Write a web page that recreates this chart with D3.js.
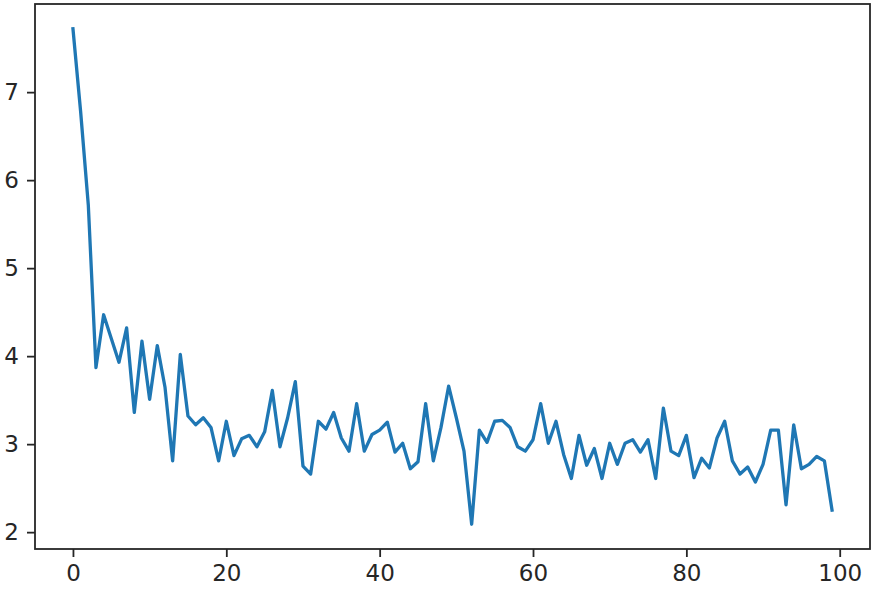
<!DOCTYPE html>
<html>
<head>
<meta charset="utf-8">
<script src="https://cdn.jsdelivr.net/npm/d3@7"></script>
<style>
  html, body { margin: 0; padding: 0; background: #fff; }
  svg { display: block; }
</style>
</head>
<body>
<script>
// ---- data ----
const epochs = d3.range(0, 100);
const lossValues = [
  7.72, 6.78, 5.72, 3.87, 4.47, 4.20, 3.93, 4.32, 3.36, 4.17,
  3.51, 4.12, 3.65, 2.81, 4.02, 3.32, 3.22, 3.30, 3.19, 2.81,
  3.26, 2.87, 3.06, 3.10, 2.97, 3.14, 3.61, 2.97, 3.30, 3.71,
  2.75, 2.66, 3.26, 3.17, 3.36, 3.07, 2.92, 3.46, 2.92, 3.11,
  3.16, 3.25, 2.91, 3.01, 2.72, 2.80, 3.46, 2.81, 3.19, 3.66,
  3.30, 2.92, 2.09, 3.16, 3.02, 3.26, 3.27, 3.19, 2.97, 2.92,
  3.05, 3.46, 3.01, 3.26, 2.88, 2.61, 3.10, 2.76, 2.95, 2.61,
  3.01, 2.77, 3.01, 3.05, 2.91, 3.05, 2.61, 3.41, 2.92, 2.87,
  3.10, 2.62, 2.84, 2.73, 3.07, 3.26, 2.81, 2.66, 2.74, 2.57,
  2.77, 3.16, 3.16, 2.31, 3.22, 2.72, 2.77, 2.86, 2.81, 2.25
];
const xTicks = [0, 20, 40, 60, 80, 100];
const yTicks = [2, 3, 4, 5, 6, 7];

// ---- layout ----
const W = 878, H = 592;
const mLeft = 35, mRight = 870, mTop = 4, mBottom = 549;
const fontSize = 23, tickLen = 8, tickPad = 8;

const svg = d3.select("body").append("svg")
  .attr("width", W).attr("height", H);

const xMin = d3.min(epochs), xMax = d3.max(epochs);
const xr = xMax - xMin;
const x = d3.scaleLinear()
  .domain([xMin - 0.05 * xr, xMax + 0.05 * xr])
  .range([mLeft, mRight]);

const yMin = d3.min(lossValues), yMax = d3.max(lossValues);
const yr = yMax - yMin;
const y = d3.scaleLinear()
  .domain([yMin - 0.05 * yr, yMax + 0.05 * yr])
  .range([mBottom, mTop]);

const axisColor = "#262626";

const gx = svg.append("g")
  .attr("transform", `translate(0,${mBottom})`)
  .call(d3.axisBottom(x).tickValues(xTicks).tickSize(tickLen).tickPadding(tickPad).tickFormat(d3.format("d")));
const gy = svg.append("g")
  .attr("transform", `translate(${mLeft},0)`)
  .call(d3.axisLeft(y).tickValues(yTicks).tickSize(tickLen).tickPadding(tickPad).tickFormat(d3.format("d")));

[gx, gy].forEach(g => {
  g.select(".domain").remove();
  g.selectAll(".tick line").attr("stroke", axisColor).attr("stroke-width", 1.8);
  g.selectAll(".tick text")
    .attr("fill", "#262626")
    .style("font-family", "'DejaVu Sans', sans-serif")
    .style("font-size", fontSize + "px");
});

const line = d3.line()
  .x((d, i) => x(epochs[i]))
  .y(d => y(d));

svg.append("path")
  .datum(lossValues)
  .attr("fill", "none")
  .attr("stroke", "#1f77b4")
  .attr("stroke-width", 3.3)
  .attr("stroke-linejoin", "round")
  .attr("stroke-linecap", "square")
  .attr("d", line);

svg.append("rect")
  .attr("x", mLeft).attr("y", mTop)
  .attr("width", mRight - mLeft).attr("height", mBottom - mTop)
  .attr("fill", "none")
  .attr("stroke", axisColor)
  .attr("stroke-width", 1.8);
</script>
</body>
</html>
